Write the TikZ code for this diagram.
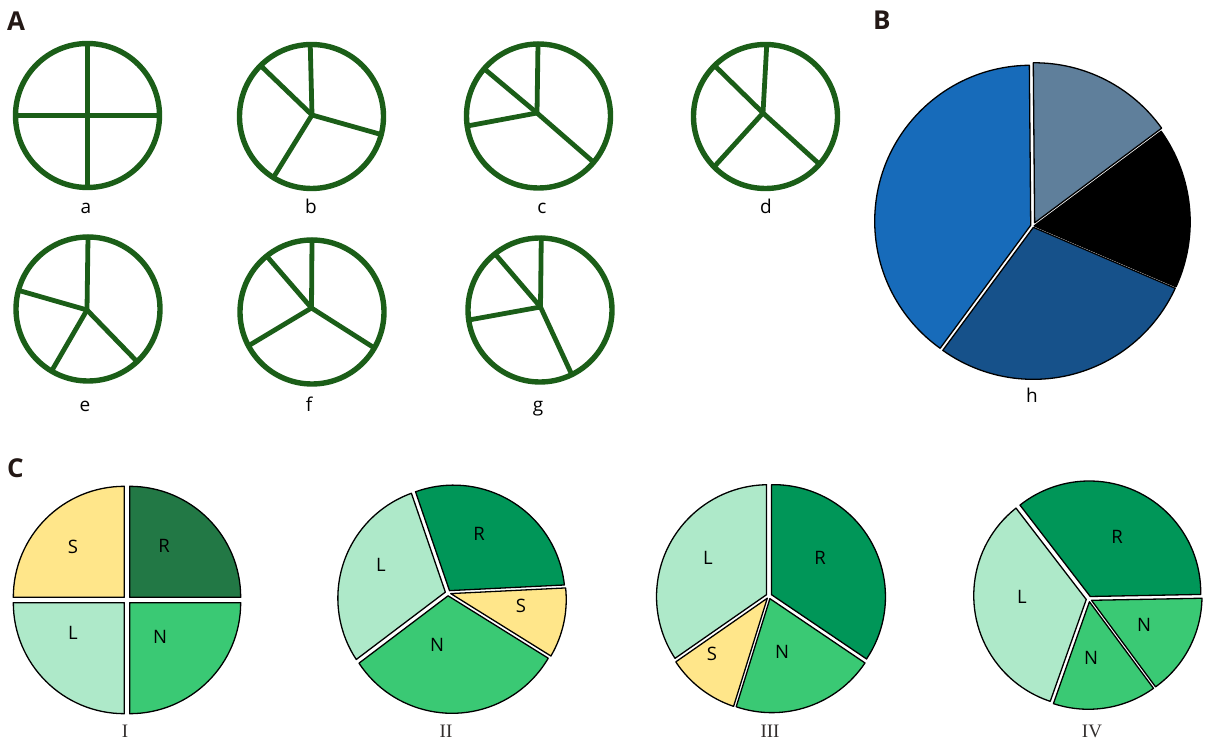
\documentclass[tikz,border=0pt]{standalone}
\usepackage{fontspec}
\setmainfont{Open Sans}
\newfontfamily\romfont{Liberation Serif}
\usetikzlibrary{calc}
\definecolor{agreen}{RGB}{27,94,24}
\definecolor{bblue}{RGB}{23,107,186}
\definecolor{bgray}{RGB}{95,127,155}
\definecolor{bdark}{RGB}{22,81,138}
\definecolor{cyel}{RGB}{255,230,138}
\definecolor{cdkg}{RGB}{34,120,69}
\definecolor{cR}{RGB}{0,150,88}
\definecolor{cN}{RGB}{58,201,116}
\definecolor{cL}{RGB}{174,233,201}
\definecolor{panelbk}{RGB}{35,24,21}
\definecolor{romgray}{RGB}{50,46,45}
\tikzset{
  ring/.style={draw=agreen, line width=5.4pt},
  spoke/.style={draw=agreen, line width=4.8pt, line cap=round},
  slice/.style={draw=black, line width=1.3pt, line join=round},
  lab/.style={font=\fontsize{19}{22}\selectfont, inner sep=0pt, anchor=base},
  plab/.style={font=\fontsize{18.5}{22}\selectfont, inner sep=0pt},
  rlab/.style={font=\romfont\fontsize{19}{22}\selectfont, text=romgray, inner sep=0pt, anchor=base},
  panel/.style={font=\bfseries\fontsize{26}{30}\selectfont, text=panelbk, inner sep=0pt, anchor=base west},
}
% #1,#2 arc centre; #3,#4 apex; #5 radius; #6,#7 angles; #8 explode; #9 colour
\newcommand\mySlice[9]{%
  \pgfmathsetmacro\mybis{(#6+#7)/2}%
  \filldraw[slice, fill=#9] ($(#3,#4)+(\mybis:#8)$) -- ($(#1,#2)+(\mybis:#8)+(#6:#5)$)
    arc[start angle=#6, end angle=#7, radius=#5pt] -- cycle;
}
% #1,#2 hub; #3,#4 centre; #5 angles
\newcommand\mySpokes[5]{%
  \foreach \myang in {#5} {\draw[spoke] (#1,#2) -- ($(#3,#4)+(\myang:72)$);}
  \draw[ring] (#3,#4) circle[radius=72pt];
}
\begin{document}
\begin{tikzpicture}[x=1pt,y=1pt]
\useasboundingbox (0,0) rectangle (1205,742);
% panel letters
\node[panel] (pA) at (7,711) {A};
\node[panel] (pB) at (873,712) {B};
\node[panel] (pC) at (7,264) {C};
% ---------- panel A ----------
\mySpokes{87.5}{626.5}{87.5}{626.5}{0,90,180,270}
\mySpokes{312}{627}{311.5}{625.5}{91,135,238,-14.5}
\mySpokes{537}{629}{538.5}{626}{90.4,139,188,-40}
\mySpokes{763}{629}{765.5}{625.5}{89,135,224.4,-41.5}
\mySpokes{87}{432}{88}{433}{90,165,239.6,-47}
\mySpokes{311.5}{434}{312}{430}{90,129,208,-30}
\mySpokes{540.5}{435}{540}{432}{89,128.7,188,-63.8}
\node[lab] (la) at (86,528) {a};
\node[lab] (lb) at (311,528) {b};
\node[lab] (lc) at (542,528) {c};
\node[lab] (ld) at (766,528) {d};
\node[lab] (le) at (85,330) {e};
\node[lab] (lf) at (309,330) {f};
\node[lab] (lg) at (538,330) {g};
% ---------- panel B ----------
\mySlice{1033}{520}{1033}{516}{156}{90.5}{234.5}{2.4}{bblue}
\mySlice{1033}{520}{1033}{516}{156}{35.5}{90.5}{3.6}{bgray}
\mySlice{1033}{520}{1033}{516}{156}{-24.6}{35.5}{1.2}{black}
\mySlice{1033}{520}{1033}{516}{156}{234.5}{335.4}{1.4}{bdark}
\node[lab] (lh) at (1032,339) {h};
% ---------- panel C ----------
% I
\mySlice{127}{142}{127}{142}{111}{0}{90}{3.8}{cdkg}
\mySlice{127}{142}{127}{142}{111}{90}{180}{3.8}{cyel}
\mySlice{127}{142}{127}{142}{111}{180}{270}{3.8}{cL}
\mySlice{127}{142}{127}{142}{111}{270}{360}{3.8}{cN}
\node[plab] (IS) at (73,195) {S};
\node[plab] (IR) at (164,196) {R};
\node[plab] (IL) at (73,109) {L};
\node[plab] (IN) at (160,105) {N};
\node[rlab] (rI) at (125,5) {I};
% II
\mySlice{452}{143}{448}{149}{111.5}{6}{109.9}{2.8}{cR}
\mySlice{452}{143}{448}{149}{111.5}{109.9}{213.4}{2.8}{cL}
\mySlice{452}{143}{448}{149}{111.5}{213.4}{329.6}{2.8}{cN}
\mySlice{452}{143}{448}{149}{111.5}{-30.4}{6}{2.8}{cyel}
\node[plab] (IIR) at (479,208) {R};
\node[plab] (IIL) at (381,177) {L};
\node[plab] (IIS) at (521,136) {S};
\node[plab] (IIN) at (437,97) {N};
\node[rlab] (rII) at (446,5) {II};
% III
\mySlice{771}{144}{769}{146}{112}{-33.8}{91}{2.8}{cR}
\mySlice{771}{144}{769}{146}{112}{91}{213.4}{2.8}{cL}
\mySlice{771}{144}{769}{146}{112}{213.4}{251.4}{2.8}{cyel}
\mySlice{771}{144}{769}{146}{112}{251.4}{326.2}{2.8}{cN}
\node[plab] (IIIL) at (708,184) {L};
\node[plab] (IIIR) at (820,184) {R};
\node[plab] (IIIS) at (712,88) {S};
\node[plab] (IIIN) at (782,90) {N};
\node[rlab] (rIII) at (770,5) {III};
% IV
\mySlice{1088}{147}{1089}{143}{111.5}{-1}{128.4}{2.8}{cR}
\mySlice{1088}{147}{1089}{143}{111.5}{128.4}{251.7}{2.8}{cL}
\mySlice{1088}{147}{1089}{143}{111.5}{251.7}{305.7}{2.8}{cN}
\mySlice{1088}{147}{1089}{143}{111.5}{305.7}{359}{2.8}{cN}
\node[plab] (IVR) at (1117,205) {R};
\node[plab] (IVL) at (1022,145) {L};
\node[plab] (IVN1) at (1091,84) {N};
\node[plab] (IVN2) at (1144,117) {N};
\node[rlab] (rIV) at (1092,5) {IV};
\end{tikzpicture}
\end{document}
